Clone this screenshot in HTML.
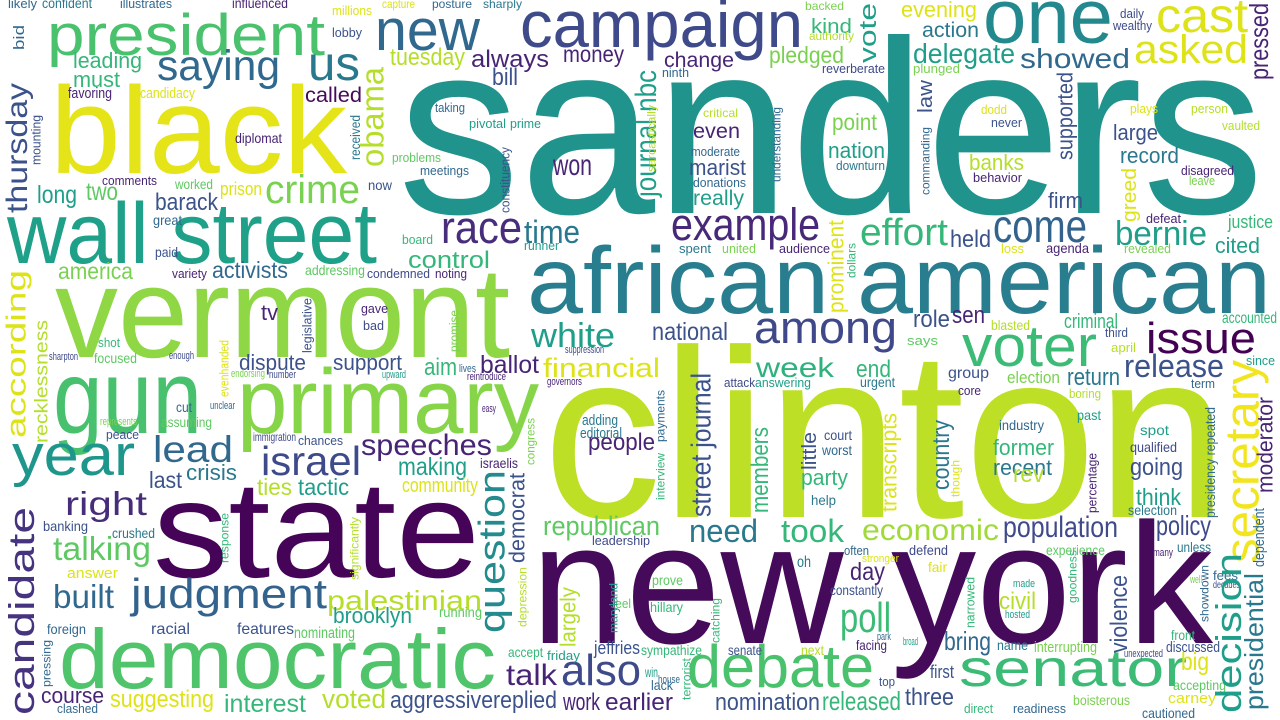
<!DOCTYPE html>
<html><head><meta charset="utf-8"><title>Word cloud</title>
<style>
html,body{margin:0;padding:0;background:#fff;}
#cloud{display:block;width:1280px;height:720px;background:#fff;}
text{font-family:"Liberation Sans",Arial,sans-serif;}
</style></head>
<body>
<svg id="cloud" width="1280" height="720" viewBox="0 0 1280 720" xmlns="http://www.w3.org/2000/svg"></svg>
<script>
// viridis palette
const C = {P:"#450a59",P2:"#482475",P3:"#3e4a89",B:"#3b528b",B2:"#31688e",T:"#2a788e",T1:"#287d8e",T2:"#21918c",T3:"#1f9e89",TG:"#1fa088",G:"#35b779",GV:"#3bbb75",G1:"#4ac16d",G2:"#5ec962",G3:"#7ad151",G4:"#8fd744",Y1:"#b5de2b",Y2:"#dde318",Y3:"#f1e51d"};
// horizontal words: text, left, right, baseline, font size, colour
const horizontalWords = [
["sanders",398,1264,213,247,"#20938c"],
["clinton",543,1228,517,240,"#bddf26"],
["new york",531,1213,643,172,"#450a59"],
["state",153,480,577,138,"#450457"],
["african american",527,1271,313,95,C.T1],
["vermont",55,510,357,129,C.G4],
["black",50,347,173,123,"#e5e419"],
["wall street",7,377,263,86,C.TG],
["gun",53,202,433,105,"#48c16e"],
["primary",237,539,433,92,"#86d549"],
["democratic",59,496,688,84,"#50c46a"],
["president",47,325,55,58,C.G1],
["new",375,480,50,58,C.B2],
["campaign",520,803,47,66,C.P3],
["one",983,1113,43,77,"#23898e"],
["cast",1156,1248,32,48,C.Y2],
["asked",1134,1248,63,40,C.Y2],
["saying",157,280,80,43,C.B2],
["us",308,360,80,48,C.T],
["crime",265,360,203,40,C.G3],
["race",441,522,243,45,"#472d7b"],
["time",524,580,243,32,C.T],
["example",671,820,240,45,"#482878"],
["effort",860,948,245,38,C.G],
["come",993,1087,242,46,"#33638d"],
["bernie",1115,1207,245,34,C.T3],
["among",754,897,343,45,"#3f4889"],
["white",531,615,347,34,C.T3],
["voter",962,1097,366,58,C.GV],
["issue",1146,1256,353,44,"#440154"],
["release",1124,1224,377,32,C.B],
["week",756,834,377,28,"#2db27d"],
["year",12,135,475,58,"#1f968b"],
["lead",153,233,462,37,C.B2],
["israel",261,361,475,41,C.P3],
["speeches",361,492,455,30,C.P2],
["right",65,147,515,33,"#472c7a"],
["talking",53,151,560,33,C.G2],
["built",53,114,608,33,C.B2],
["judgment",131,327,608,42,"#33638d"],
["palestinian",327,482,610,28,C.Y1],
["debate",687,874,687,60,C.G1],
["senator",959,1187,686,52,C.GV],
["poll",840,891,632,42,C.GV],
["also",561,641,685,44,C.P3],
["talk",506,557,685,30,C.P2],
["need",689,758,542,32,C.T],
["took",781,844,542,32,C.G],
["economic",862,999,540,30,"#a0da39"],
["population",1003,1118,537,30,C.P3],
["policy",1156,1211,535,28,C.P3],
["aggressivereplied",390,557,708,24,C.B],
["suggesting",110,214,707,24,C.Y2],
["interest",224,306,712,25,C.G],
["voted",322,386,708,27,C.Y1],
["course",41,104,703,22,C.P2],
["clashed",57,98,713,13,C.B2],
["work",563,600,710,24,C.P2],
["earlier",605,673,710,24,C.P2],
["nomination",715,820,710,24,C.B],
["released",822,901,710,26,C.G],
["three",905,954,705,24,C.B],
["first",930,954,678,18,C.B],
["bring",944,991,650,26,C.B2],
["civil",999,1036,609,24,C.Y1],
["day",850,885,580,25,C.P2],
["ballot",480,539,373,25,C.P2],
["financial",543,660,377,27,C.Y2],
["dispute",239,306,370,22,C.B],
["support",333,402,370,22,C.B],
["aim",424,457,375,24,C.G],
["republican",543,660,535,27,C.G2],
["people",588,655,450,24,C.P2],
["brooklyn",333,412,623,22,C.T3],
["making",398,467,475,25,C.T3],
["ties",257,292,495,23,C.Y1],
["tactic",298,349,495,23,C.T3],
["crisis",186,237,480,22,C.T],
["last",149,182,488,23,C.B],
["community",402,478,492,20,C.Y2],
["jeffries",594,640,654,18,C.B],
["tuesday",390,465,65,24,C.Y1],
["always",471,549,67,24,C.P2],
["money",563,624,62,23,C.P2],
["bill",492,518,85,24,C.B],
["control",408,490,268,24,C.G],
["won",553,592,175,30,C.P2],
["delegate",913,1015,63,28,C.T3],
["showed",1020,1130,68,28,C.B2],
["pledged",769,844,63,23,C.G3],
["change",664,734,67,21,C.P2],
["action",922,979,37,21,C.T],
["kind",811,852,33,20,C.G],
["evening",901,977,17,22,C.Y2],
["even",693,740,138,21,C.P2],
["marist",689,746,175,22,C.B],
["really",693,744,205,21,C.T3],
["point",832,877,130,23,C.G3],
["nation",828,885,158,22,C.T3],
["banks",969,1024,170,22,C.Y1],
["large",1113,1158,140,22,C.B],
["record",1120,1179,163,22,C.T],
["firm",1048,1083,208,22,C.B],
["held",950,991,247,24,C.B],
["cited",1215,1260,253,22,C.T3],
["justice",1228,1273,228,18,C.G],
["national",652,728,340,25,C.B],
["role",913,950,327,24,C.B],
["sen",952,985,323,24,C.P2],
["criminal",1064,1118,328,20,C.G],
["accounted",1222,1277,323,16,C.G],
["leading",73,142,68,22,C.G],
["must",73,120,87,22,C.G],
["called",305,362,102,21,C.P],
["long",37,77,203,25,C.T3],
["two",86,118,200,25,C.G2],
["barack",155,218,210,24,C.B],
["america",58,133,279,23,C.G3],
["activists",212,288,278,23,C.B2],
["tv",261,278,320,22,C.P2],
["party",801,848,485,22,C.G],
["former",993,1054,455,22,C.G],
["recent",993,1052,475,22,C.T],
["rev",1013,1044,482,24,C.Y1],
["going",1130,1183,475,24,C.B],
["think",1136,1181,505,23,C.T3],
["end",856,891,377,24,C.G],
["return",1067,1120,385,24,C.T],
["big",1181,1209,670,25,C.Y2],
["prison",220,262,195,18,C.Y2],
["diplomat",235,282,143,14,C.P2],
["comments",102,157,185,13,C.P2],
["worked",175,213,189,14,C.G2],
["candidacy",140,195,98,15,C.Y2],
["favoring",68,112,98,15,C.P2],
["confident",42,92,8,14,C.T],
["likely",8,37,8,13,C.B2],
["illustrates",120,172,8,13,C.B2],
["influenced",232,288,8,14,C.P2],
["millions",332,372,15,13,C.Y2],
["lobby",332,362,37,13,C.B],
["great",153,182,225,14,C.B2],
["paid",155,178,257,14,C.B],
["variety",172,207,278,13,C.P2],
["addressing",305,365,275,14,C.G2],
["now",368,392,190,14,C.B],
["problems",392,441,162,13,C.G2],
["meetings",420,469,175,13,C.B2],
["taking",435,465,112,13,C.B2],
["pivotal",469,506,128,13,C.T3],
["prime",510,541,128,13,C.T3],
["runner",524,559,250,13,C.T3],
["board",402,433,244,13,C.G],
["condemned",367,430,278,13,C.P3],
["noting",435,467,278,13,C.P2],
["gave",361,388,313,13,C.P2],
["bad",363,384,330,13,C.P3],
["shot",98,120,347,13,C.G],
["capture",382,415,8,12,C.Y2],
["posture",432,472,8,12,C.B2],
["sharply",483,522,8,12,C.T],
["ninth",662,689,77,13,C.B2],
["reverberate",822,885,73,13,C.P3],
["plunged",913,960,73,13,C.G3],
["daily",1120,1144,18,13,C.P3],
["wealthy",1113,1152,30,13,C.P3],
["backed",805,844,10,12,C.G3],
["authority",809,854,40,12,C.Y1],
["critical",703,738,117,12,C.Y1],
["moderate",691,740,156,13,C.B2],
["donations",693,746,187,13,C.B2],
["downturn",836,885,170,13,C.T],
["dodd",981,1007,114,13,C.Y2],
["never",991,1022,127,13,C.B],
["behavior",973,1022,182,13,C.P2],
["disagreed",1181,1234,175,13,C.P2],
["leave",1189,1215,185,13,C.G3],
["plays",1130,1158,113,13,C.Y2],
["person",1191,1228,113,13,C.Y1],
["vaulted",1222,1260,130,13,C.Y1],
["defeat",1146,1181,223,13,C.P2],
["revealed",1124,1171,253,13,C.G3],
["agenda",1046,1089,253,14,C.P2],
["loss",1001,1024,253,13,C.Y2],
["audience",779,830,253,13,C.P2],
["spent",679,711,253,13,C.T],
["united",722,756,253,13,C.G3],
["blasted",991,1030,330,14,C.Y1],
["third",1105,1128,337,13,C.B],
["says",907,938,345,13,C.G2],
["april",1111,1136,352,13,C.Y1],
["group",948,989,378,16,C.B],
["urgent",860,895,387,14,C.T],
["core",958,981,395,13,C.P2],
["attack",724,755,387,13,C.P3],
["answering",755,811,387,13,C.T3],
["election",1007,1060,383,17,C.G3],
["since",1246,1275,365,13,C.T3],
["term",1191,1215,388,13,C.B2],
["boring",1069,1101,398,13,C.Y1],
["past",1077,1101,420,14,C.T3],
["court",824,852,440,14,C.B],
["worst",822,852,455,14,C.B2],
["help",811,836,505,14,C.T],
["industry",999,1044,430,14,C.B2],
["spot",1140,1169,435,14,C.T3],
["qualified",1130,1177,452,14,C.P3],
["selection",1128,1177,515,14,C.T],
["experience",1046,1105,555,14,C.G2],
["unless",1177,1211,552,14,C.T],
["often",844,869,555,13,C.B2],
["defend",909,948,555,14,C.P3],
["constantly",830,883,595,14,C.B],
["prove",652,683,585,14,C.G2],
["hillary",650,683,612,14,C.G],
["fees",1213,1238,580,13,C.B2],
["decades",1213,1240,588,10,C.P3],
["name",997,1028,650,14,C.T],
["interrupting",1034,1097,652,15,C.G3],
["front",1171,1195,640,14,C.G],
["discussed",1166,1220,652,15,C.B],
["accepting",1173,1226,690,14,C.G2],
["carney",1168,1216,703,15,C.Y2],
["cautioned",1142,1195,718,14,C.B2],
["top",879,895,686,13,C.B],
["senate",728,762,655,14,C.B],
["facing",856,887,650,14,C.P2],
["next",801,824,655,14,C.Y1],
["sympathize",641,702,655,14,C.G],
["win",645,658,677,14,C.T3],
["house",658,680,683,11,C.B2],
["lack",651,673,690,14,C.B2],
["direct",964,993,713,13,C.G],
["readiness",1013,1066,713,13,C.B2],
["boisterous",1073,1130,705,14,C.G3],
["answer",67,118,578,15,C.Y2],
["banking",43,88,531,14,C.B],
["crushed",112,155,538,14,C.T],
["foreign",47,86,634,14,C.B2],
["assuming",161,212,427,14,C.G2],
["peace",106,139,439,13,C.B],
["cut",176,192,412,14,C.B2],
["running",439,482,617,14,C.G2],
["chances",298,343,445,13,C.B],
["israelis",480,518,468,14,C.P2],
["racial",151,190,634,16,C.B],
["features",237,294,634,16,C.B],
["nominating",294,355,638,16,C.G2],
["accept",508,543,657,14,C.G],
["friday",547,580,660,13,C.T3],
["leadership",592,650,545,13,C.P3],
["feel",612,631,608,13,C.G2],
["oh",797,811,567,16,C.T],
["fair",928,947,572,14,C.Y2],
["stronger",862,899,562,11,C.Y2],
["made",1013,1035,587,11,C.T3],
["hosted",1005,1030,618,11,C.T3],
["park",877,891,640,11,C.B2],
["broad",903,918,645,11,C.T3],
["unexpected",1124,1163,657,11,C.P3],
["many",1153,1173,556,11,C.P2],
["well",1190,1202,583,11,C.G3],
["focused",94,137,363,14,C.G2],
["enough",169,194,359,11,C.P3],
["sharpton",49,78,360,11,C.P3],
["endorsing",231,265,377,11,C.G3],
["number",269,296,378,11,C.P3],
["upward",382,406,378,11,C.T3],
["lives",459,476,372,11,C.B2],
["reintroduce",467,506,380,11,C.P2],
["governors",547,582,385,11,C.P2],
["suppression",565,604,353,11,C.P3],
["unclear",210,235,409,11,C.B2],
["represents",100,137,425,11,C.G3],
["easy",482,496,412,11,C.P2],
["adding",582,618,425,15,C.T],
["editorial",580,622,438,15,C.T],
["immigration",253,296,441,12,C.P3]
];
// vertical words: text, left, right, top, bottom, font size, colour
const verticalWords = [
["thursday",7,33,83,213,30,C.B],
["obama",368,390,67,167,32,C.Y1],
["according",8,31,270,438,28,C.Y2],
["recklessness",37,51,320,443,18,C.Y1],
["candidate",12,41,507,715,36,"#46337f"],
["question",484,512,470,633,37,"#238a8d"],
["democrat",514,529,473,563,22,C.B],
["largely",563,580,587,647,22,C.Y1],
["journal nbc",630,662,70,197,30,C.T3],
["vote",860,881,3,63,24,C.T3],
["pressed",1250,1273,3,80,26,C.P2],
["supported",1060,1077,72,160,22,C.B],
["law",922,936,80,113,20,C.B],
["greed",1126,1140,168,222,20,C.Y2],
["prominent",832,848,220,313,22,C.Y2],
["street journal",697,716,373,517,28,C.B],
["members",758,773,427,513,24,C.G],
["little",803,820,432,470,20,C.B],
["transcripts",885,901,413,512,22,C.Y2],
["country",936,954,420,490,24,C.T],
["secretary",1228,1268,360,563,48,C.Y3],
["decision",1220,1248,553,713,36,C.T3],
["presidential",1248,1268,573,710,26,C.T],
["moderator",1258,1277,397,493,22,C.P2],
["violence",1115,1132,575,653,24,C.B],
["presidency repeated",1207,1218,407,518,14,C.B2],
["dependent",1254,1267,508,567,15,C.B2],
["percentage",1089,1099,453,513,13,C.P2],
["understanding",775,783,107,182,12,C.B2],
["commanding",924,932,127,195,12,C.B2],
["sarcastically",650,658,105,172,12,C.Y1],
["constituency",502,512,147,213,13,C.B],
["mounting",37,43,115,165,13,C.B],
["received",353,363,115,160,14,C.T],
["legislative",304,314,298,353,13,C.B],
["promise",453,461,310,352,13,C.G3],
["response",222,231,513,563,12,C.G],
["significantly",353,361,517,580,12,C.Y1],
["congress",529,537,418,465,12,C.G3],
["depression",518,529,567,627,12,C.Y1],
["maryland",610,620,583,633,12,C.T3],
["pressing",43,53,640,687,12,C.B2],
["catching",711,722,598,643,12,C.G],
["narrowed",967,977,577,628,13,C.G],
["goodness",1069,1079,550,603,12,C.G],
["showdown",1203,1211,565,622,12,C.B2],
["payments",656,667,390,442,12,C.B2],
["interview",659,667,453,500,12,C.G],
["terrorist",683,693,658,700,12,C.G],
["bid",13,27,25,50,15,C.B2],
["dollars",850,858,243,278,12,C.G],
["though",952,962,460,497,12,C.Y2],
["evenhanded",220,231,340,397,13,C.Y2]
];

const svg = document.getElementById('cloud');
const NS = "http://www.w3.org/2000/svg";
function slug(s){return s.replace(/\s+/g,'-');}
horizontalWords.forEach(w => {
  const t = document.createElementNS(NS,'text');
  
  
  t.setAttribute('x', w[1]);
  t.setAttribute('y', w[3]);
  t.setAttribute('font-size', w[4]);
  t.setAttribute('fill', w[5]);
  t.setAttribute('textLength', w[2]-w[1]);
  t.setAttribute('lengthAdjust', 'spacingAndGlyphs');
  t.textContent = w[0];
  svg.appendChild(t);
});
verticalWords.forEach(w => {
  const t = document.createElementNS(NS,'text');
  
  
  const bx = w[2] - 0.2*w[5];
  t.setAttribute('transform', 'translate(' + bx + ',' + w[4] + ') rotate(-90)');
  t.setAttribute('x', 0);
  t.setAttribute('y', 0);
  t.setAttribute('font-size', w[5]);
  t.setAttribute('fill', w[6]);
  t.setAttribute('textLength', w[4]-w[3]);
  t.setAttribute('lengthAdjust', 'spacingAndGlyphs');
  t.textContent = w[0];
  svg.appendChild(t);
});
</script>
</body></html>
